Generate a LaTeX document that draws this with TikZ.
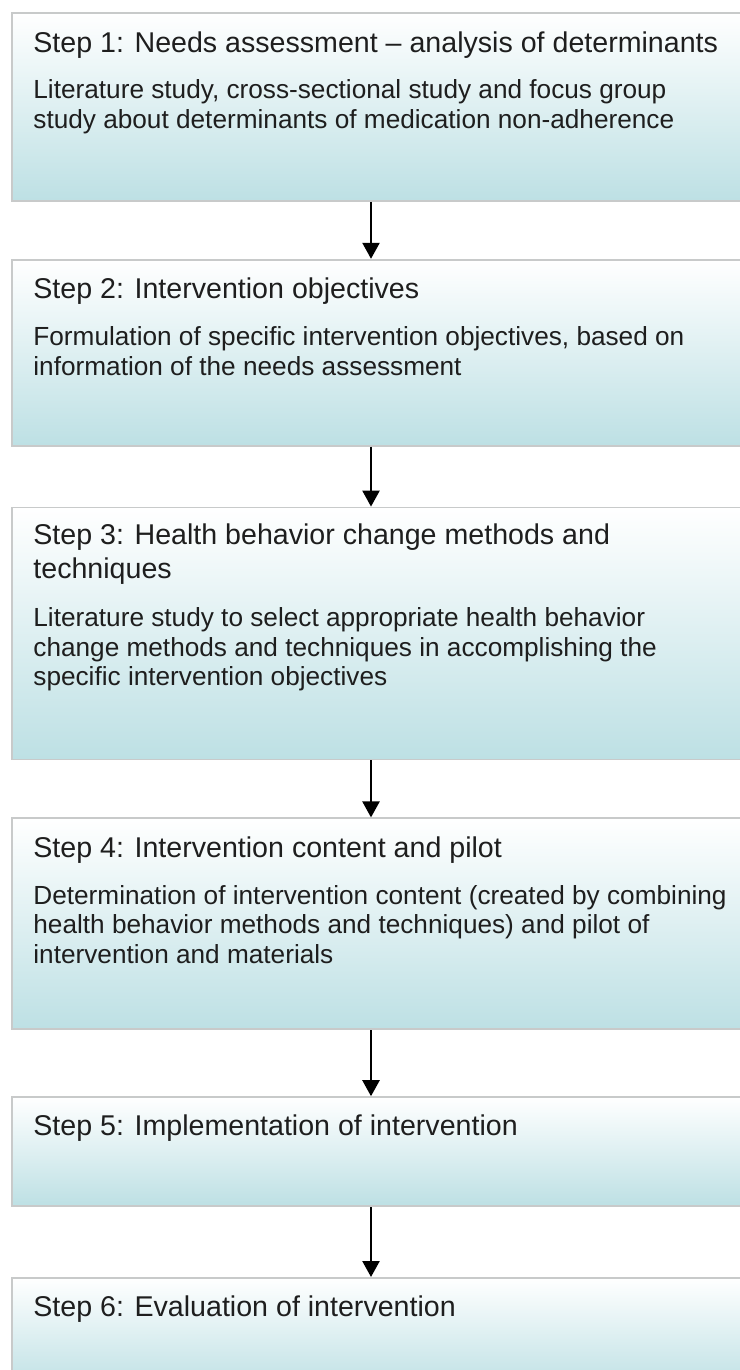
\documentclass[tikz,border=0pt]{standalone}
\usepackage{fontspec}
\setmainfont{Liberation Sans}
\usetikzlibrary{positioning, arrows.meta}

\definecolor{stepteal}{RGB}{189,224,228}
\definecolor{stepline}{RGB}{200,202,202}
\definecolor{steptext}{RGB}{30,30,30}

\begin{document}
\begin{tikzpicture}[>={Triangle[width=8.5pt,length=8pt]},
        stepbox/.style={rectangle, draw=stepline, line width=0.9pt, top color=white, bottom color=stepteal, minimum width=369.5pt, inner sep=0pt},
        steptitle/.style={inner sep=0pt, anchor=base west, text width=355pt, align=flush left, text=steptext, font=\fontsize{14.3pt}{17pt}\selectfont},
        stepbody/.style={inner sep=0pt, anchor=base west, text width=355pt, align=flush left, text=steptext, font=\fontsize{13.1pt}{14.75pt}\selectfont}]
        \useasboundingbox (0,0) rectangle (369.5pt,-685pt);
        \coordinate (axis) at (185.5pt,0);

        % the six boxes, top to bottom
        \node[stepbox, minimum height=94pt, anchor=north west] (s1) at (5.5pt,-6pt) {};
        \node[stepbox, minimum height=93pt] (s2) [below=28.5pt of s1] {};
        \node[stepbox, minimum height=126pt] (s3) [below=30pt of s2] {};
        \node[stepbox, minimum height=105.5pt] (s4) [below=28.5pt of s3] {};
        \node[stepbox, minimum height=54.5pt] (s5) [below=33pt of s4] {};
        \node[stepbox, minimum height=56pt] (s6) [below=35pt of s5] {};

        % titles (base = first line)
        \node[steptitle] (t1) at ([shift={(11pt,-20.5pt)}]s1.north west) {Step 1: Needs assessment – analysis of determinants};
        \node[steptitle] (t2) at ([shift={(11pt,-20pt)}]s2.north west) {Step 2: Intervention objectives};
        \node[steptitle] (t3) at ([shift={(11pt,-19pt)}]s3.north west) {Step 3: Health behavior change methods and\\techniques};
        \node[steptitle] (t4) at ([shift={(11pt,-20pt)}]s4.north west) {Step 4: Intervention content and pilot};
        \node[steptitle] (t5) at ([shift={(11pt,-19.5pt)}]s5.north west) {Step 5: Implementation of intervention};
        \node[steptitle] (t6) at ([shift={(11pt,-19.5pt)}]s6.north west) {Step 6: Evaluation of intervention};

        % descriptions
        \node[stepbody] (b1) [below=23pt of t1.base west, anchor=base west] {Literature study, cross-sectional study and focus group\\study about determinants of medication non-adherence};
        \node[stepbody] (b2) [below=23.5pt of t2.base west, anchor=base west] {Formulation of specific intervention objectives, based on\\information of the needs assessment};
        \node[stepbody] (b3) [below=41pt of t3.base west, anchor=base west] {Literature study to select appropriate health behavior\\change methods and techniques in accomplishing the\\specific intervention objectives};
        \node[stepbody] (b4) [below=23.5pt of t4.base west, anchor=base west] {Determination of intervention content (created by combining\\health behavior methods and techniques) and pilot of\\intervention and materials};

        \path[->, line width=1.2pt]
        (s1.south -| axis) edge (s2.north -| axis)
        (s2.south -| axis) edge (s3.north -| axis)
        (s3.south -| axis) edge (s4.north -| axis)
        (s4.south -| axis) edge (s5.north -| axis)
        (s5.south -| axis) edge (s6.north -| axis)
        ;
    \end{tikzpicture}
\end{document}
